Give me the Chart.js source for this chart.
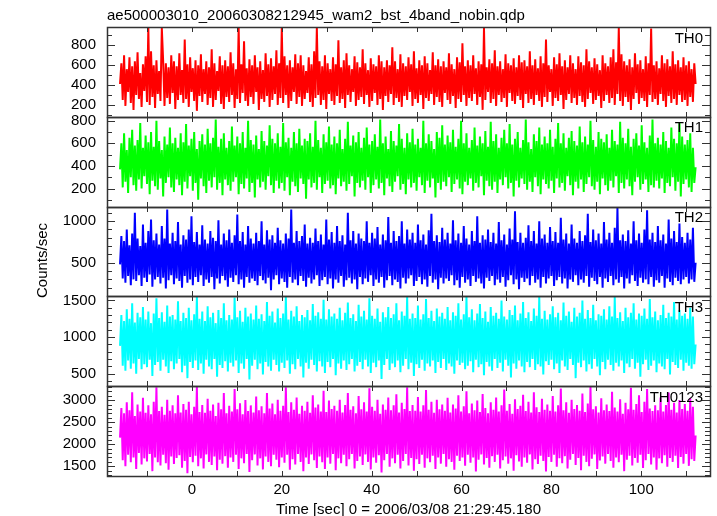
<!DOCTYPE html>
<html lang="en">
<head>
    <meta charset="UTF-8">
    <title>ae500003010 wam2 bst 4band</title>
    <script src="https://cdn.jsdelivr.net/npm/chart.js"></script>
    <style>
        * { margin: 0; padding: 0; }
        body { background: #fff; }
        #wrap { width: 717px; height: 516px; }
    </style>
</head>
<body>
    <div id="wrap"><canvas id="lc"></canvas></div>
    <script>
        // time bins (sec): start and bin width
        const tStart = -16;
        const tStep = 0.3;

        const th0 = [
            410, 620, 250, 700, 190, 560, 330, 680, 220, 590, 150, 640, 300, 730, 260, 520, 180, 610, 340, 690,
            230, 975, 200, 740, 280, 600, 170, 650, 310, 540, 240, 975, 640, 190, 620, 270, 580, 210, 700, 320,
            640, 160, 590, 250, 720, 300, 550, 220, 860, 260, 610, 180, 680, 330, 570, 240, 650, 140, 600, 290,
            710, 230, 560, 310, 640, 200, 580, 270, 760, 180, 620, 250, 540, 340, 690, 210, 600, 160, 650, 280,
            590, 230, 730, 300, 620, 170, 560, 260, 975, 220, 610, 320, 840, 240, 570, 190, 660, 280, 600, 210,
            700, 330, 580, 150, 640, 260, 550, 230, 720, 290, 610, 180, 670, 250, 590, 310, 750, 200, 620, 270,
            975, 220, 690, 300, 600, 170, 650, 240, 580, 330, 710, 210, 620, 280, 700, 190, 600, 260, 540, 320,
            680, 230, 610, 180, 740, 270, 975, 300, 640, 200, 590, 250, 700, 160, 620, 310, 560, 240, 680, 200,
            610, 290, 850, 220, 580, 260, 650, 170, 720, 300, 600, 230, 560, 330, 690, 190, 630, 250, 580, 280,
            760, 210, 620, 300, 550, 180, 670, 240, 610, 320, 590, 200, 700, 260, 640, 150, 580, 290, 650, 230,
            600, 310, 780, 200, 640, 270, 560, 230, 710, 180, 620, 290, 590, 250, 680, 330, 610, 190, 740, 260,
            570, 220, 650, 300, 600, 160, 690, 270, 620, 240, 550, 310, 730, 200, 600, 280, 660, 230, 590, 180,
            640, 320, 580, 250, 720, 210, 610, 290, 560, 170, 680, 260, 630, 230, 820, 300, 590, 190, 650, 270,
            600, 240, 700, 310, 570, 200, 640, 280, 610, 150, 975, 250, 580, 330, 660, 220, 620, 260, 750, 190,
            590, 300, 640, 230, 560, 270, 710, 180, 620, 320, 600, 240, 670, 210, 580, 290, 700, 250, 630, 170,
            650, 310, 590, 220, 740, 260, 600, 200, 660, 300, 570, 240, 690, 180, 620, 280, 860, 230, 600, 330,
            560, 190, 680, 270, 610, 240, 720, 300, 590, 160, 650, 250, 580, 310, 700, 220, 620, 270, 560, 200,
            690, 290, 630, 230, 600, 180, 760, 260, 640, 320, 580, 210, 670, 250, 610, 290, 550, 170, 700, 240,
            620, 300, 590, 220, 680, 270, 760, 200, 630, 310, 975, 240, 710, 190, 640, 280, 600, 230, 660, 150,
            580, 260, 720, 320, 610, 210, 650, 270, 560, 240, 690, 180, 620, 300, 970, 230, 600, 260, 640, 200,
            570, 310, 700, 240, 620, 180, 660, 290, 590, 220, 740, 260, 610, 200, 650, 300, 580, 230, 680, 250,
            600, 190, 640, 280, 560, 230, 620, 410
        ];
        const th1 = [
            370, 600, 210, 690, 260, 540, 160, 650, 300, 720, 230, 580, 180, 630, 280, 780, 200, 560, 310, 670,
            240, 610, 150, 700, 270, 570, 220, 800, 190, 620, 290, 540, 130, 660, 250, 590, 300, 740, 210, 600,
            170, 650, 280, 560, 230, 690, 140, 610, 260, 770, 200, 580, 310, 640, 180, 700, 250, 550, 100, 620,
            290, 680, 220, 590, 160, 730, 270, 600, 210, 650, 300, 810, 190, 570, 250, 640, 140, 690, 280, 560,
            230, 620, 180, 750, 260, 580, 300, 660, 150, 600, 240, 700, 200, 560, 290, 800, 170, 630, 250, 590,
            120, 670, 280, 550, 210, 710, 260, 620, 190, 580, 310, 760, 230, 640, 160, 600, 270, 690, 200, 570,
            250, 780, 180, 610, 300, 650, 140, 560, 260, 700, 220, 600, 170, 730, 290, 580, 240, 640, 110, 620,
            280, 690, 210, 570, 250, 800, 190, 630, 300, 560, 160, 680, 240, 610, 270, 750, 200, 590, 230, 660,
            150, 600, 290, 720, 220, 550, 260, 640, 180, 790, 240, 580, 310, 670, 130, 610, 250, 700, 210, 560,
            270, 650, 190, 740, 300, 590, 160, 620, 230, 680, 280, 570, 200, 810, 250, 600, 140, 660, 290, 550,
            220, 710, 170, 620, 260, 580, 310, 770, 190, 640, 240, 560, 150, 690, 280, 610, 210, 730, 250, 590,
            180, 640, 300, 560, 230, 800, 160, 600, 270, 680, 210, 620, 290, 550, 120, 700, 250, 650, 190, 760,
            260, 590, 220, 670, 300, 610, 170, 720, 240, 570, 280, 640, 200, 800, 150, 600, 260, 690, 230, 560,
            290, 630, 180, 740, 250, 580, 210, 660, 310, 600, 140, 710, 270, 570, 220, 790, 190, 620, 260, 680,
            160, 560, 280, 650, 230, 720, 300, 600, 200, 770, 250, 590, 130, 640, 270, 700, 210, 560, 290, 630,
            240, 810, 190, 610, 260, 550, 170, 680, 300, 620, 220, 740, 150, 590, 280, 660, 240, 600, 200, 720,
            270, 570, 160, 640, 290, 780, 210, 600, 250, 690, 180, 560, 310, 650, 230, 710, 140, 620, 260, 580,
            200, 750, 280, 610, 170, 660, 240, 590, 300, 800, 220, 630, 190, 570, 260, 700, 150, 640, 290, 610,
            230, 680, 180, 560, 270, 720, 210, 620, 310, 590, 160, 790, 250, 650, 200, 600, 280, 730, 220, 570,
            140, 640, 260, 690, 300, 580, 190, 760, 240, 610, 280, 560, 170, 670, 230, 810, 210, 600, 270, 650,
            200, 590, 290, 700, 160, 620, 250, 560, 220, 740, 300, 640, 180, 600, 260, 780, 130, 660, 240, 590,
            280, 630, 210, 690, 170, 560, 250, 390
        ];
        const th2 = [
            480, 820, 310, 760, 260, 900, 340, 710, 230, 850, 300, 1100, 280, 790, 350, 700, 220, 960, 320, 740,
            270, 880, 360, 1020, 210, 770, 300, 850, 330, 720, 250, 940, 320, 790, 190, 1140, 290, 730, 350, 860,
            240, 760, 310, 990, 280, 720, 200, 830, 340, 780, 260, 900, 300, 1060, 230, 750, 330, 870, 270, 720,
            350, 950, 220, 780, 300, 730, 260, 880, 330, 800, 180, 760, 310, 1010, 250, 720, 340, 850, 290, 770,
            210, 900, 320, 740, 270, 830, 350, 1080, 240, 760, 300, 870, 200, 720, 330, 940, 260, 790, 310, 730,
            280, 860, 230, 760, 340, 1000, 290, 720, 250, 890, 320, 780, 170, 830, 300, 740, 350, 920, 240, 770,
            310, 730, 270, 850, 200, 790, 330, 1140, 260, 740, 300, 880, 230, 760, 340, 820, 280, 960, 210, 730,
            320, 800, 250, 740, 300, 910, 350, 760, 220, 840, 290, 720, 330, 1020, 240, 780, 310, 870, 190, 740,
            300, 940, 260, 760, 340, 830, 210, 720, 290, 1100, 320, 770, 250, 880, 300, 730, 180, 850, 330, 790,
            240, 760, 310, 1000, 270, 740, 350, 860, 220, 790, 300, 930, 260, 720, 330, 840, 200, 770, 290, 1050,
            340, 740, 230, 880, 300, 760, 270, 820, 190, 1000, 320, 730, 250, 900, 310, 780, 350, 860, 220, 740,
            280, 960, 330, 770, 240, 840, 300, 720, 210, 890, 340, 1090, 260, 760, 300, 830, 180, 750, 320, 920,
            250, 780, 310, 860, 280, 730, 350, 1010, 230, 770, 290, 850, 200, 740, 330, 940, 260, 790, 300, 720,
            220, 880, 340, 760, 270, 1060, 310, 740, 250, 830, 190, 780, 320, 900, 280, 750, 340, 860, 230, 730,
            300, 990, 260, 770, 330, 840, 210, 720, 290, 910, 350, 780, 240, 1120, 300, 750, 180, 860, 320, 740,
            270, 800, 310, 950, 230, 760, 340, 880, 260, 730, 300, 1000, 200, 790, 330, 840, 250, 740, 310, 930,
            340, 760, 220, 870, 290, 740, 330, 1040, 250, 780, 310, 850, 190, 730, 300, 960, 270, 790, 350, 740,
            230, 880, 300, 760, 260, 830, 340, 1090, 210, 750, 320, 900, 280, 770, 240, 850, 330, 730, 200, 990,
            310, 780, 270, 860, 340, 740, 230, 920, 300, 1160, 260, 770, 330, 840, 190, 760, 310, 890, 250, 730,
            350, 1000, 280, 770, 220, 850, 320, 740, 260, 900, 300, 1130, 240, 780, 330, 860, 210, 750, 290, 940,
            260, 770, 340, 840, 200, 730, 310, 1020, 270, 790, 230, 880, 320, 750, 280, 970, 240, 810, 300, 740,
            330, 860, 250, 780, 300, 920, 270, 500
        ];
        const th3 = [
            880, 1300, 610, 1220, 540, 1380, 680, 1250, 570, 1460, 640, 1200, 500, 1330, 700, 1270, 560, 1410, 630, 1240,
            590, 1350, 690, 1190, 470, 1320, 620, 1530, 660, 1260, 540, 1340, 690, 1210, 600, 1430, 510, 1280, 670, 1300,
            560, 1240, 640, 1490, 700, 1220, 520, 1330, 610, 1260, 440, 1400, 660, 1230, 580, 1310, 680, 1550, 550, 1250,
            640, 1350, 500, 1220, 690, 1420, 600, 1270, 560, 1330, 700, 1190, 460, 1370, 620, 1260, 580, 1460, 670, 1230,
            530, 1300, 650, 1240, 600, 1540, 680, 1270, 510, 1360, 640, 1210, 570, 1400, 700, 1280, 420, 1320, 610, 1240,
            690, 1430, 560, 1250, 640, 1310, 490, 1220, 660, 1480, 600, 1290, 540, 1350, 690, 1200, 620, 1390, 530, 1260,
            650, 1320, 580, 1545, 680, 1240, 500, 1360, 630, 1280, 560, 1420, 700, 1220, 600, 1300, 450, 1270, 650, 1370,
            570, 1230, 690, 1450, 620, 1290, 530, 1340, 670, 1250, 600, 1510, 510, 1240, 660, 1380, 590, 1280, 700, 1320,
            480, 1250, 640, 1400, 570, 1230, 680, 1330, 550, 1470, 630, 1260, 700, 1310, 530, 1220, 610, 1440, 660, 1280,
            560, 1360, 690, 1240, 600, 1530, 510, 1290, 650, 1250, 590, 1390, 680, 1210, 430, 1340, 620, 1270, 700, 1410,
            550, 1260, 640, 1310, 590, 1460, 680, 1230, 520, 1350, 610, 1290, 700, 1545, 560, 1250, 650, 1320, 470, 1260,
            630, 1430, 580, 1240, 690, 1310, 540, 1520, 640, 1260, 600, 1360, 680, 1220, 510, 1390, 660, 1280, 580, 1330,
            700, 1250, 550, 1410, 640, 1230, 600, 1340, 500, 1290, 680, 1460, 620, 1240, 650, 1310, 560, 1545, 610, 1270,
            670, 1380, 520, 1230, 690, 1320, 590, 1450, 630, 1260, 480, 1350, 660, 1210, 600, 1410, 540, 1290, 700, 1330,
            580, 1250, 650, 1500, 530, 1280, 690, 1240, 610, 1370, 450, 1300, 640, 1430, 570, 1230, 680, 1320, 600, 1480,
            520, 1260, 660, 1340, 590, 1220, 700, 1390, 550, 1290, 630, 1545, 600, 1250, 490, 1360, 670, 1240, 620, 1310,
            690, 1420, 560, 1270, 640, 1330, 510, 1230, 680, 1470, 600, 1290, 550, 1350, 700, 1210, 620, 1400, 440, 1280,
            650, 1330, 590, 1500, 680, 1250, 530, 1370, 630, 1260, 570, 1440, 700, 1230, 600, 1310, 480, 1290, 660, 1380,
            560, 1240, 690, 1420, 620, 1280, 540, 1545, 650, 1260, 600, 1340, 680, 1220, 510, 1400, 640, 1270, 590, 1330,
            700, 1460, 570, 1240, 650, 1320, 460, 1290, 630, 1390, 690, 1250, 550, 1520, 610, 1270, 680, 1350, 520, 1230,
            640, 1300, 600, 1440, 560, 1260, 700, 1330, 490, 1280, 660, 1480, 620, 1240, 580, 1370, 690, 1290, 540, 1320,
            650, 1250, 610, 1400, 570, 1280, 630, 900
        ];
        const th0123 = [
            2150, 2820, 1640, 2700, 1500, 2950, 1760, 2770, 1590, 3180, 1700, 2640, 1440, 2900, 1800, 2740, 1540, 3050, 1680, 2710,
            1610, 2880, 1780, 2680, 1390, 2960, 1700, 3290, 1590, 2750, 1520, 2850, 1760, 2670, 1570, 3010, 1420, 2760, 1720, 2880,
            1550, 2700, 1690, 3110, 1750, 2720, 1470, 2910, 1620, 2780, 1340, 2960, 1710, 2680, 1590, 2850, 1740, 3300, 1500, 2730,
            1680, 2890, 1450, 2710, 1770, 3030, 1600, 2760, 1530, 2900, 1720, 2640, 1410, 2940, 1650, 2790, 1560, 3160, 1730, 2700,
            1470, 2870, 1700, 2740, 1600, 3250, 1760, 2790, 1440, 2930, 1680, 2680, 1570, 3000, 1780, 2750, 1370, 2880, 1640, 2720,
            1770, 3080, 1520, 2770, 1680, 2860, 1430, 2700, 1720, 3160, 1600, 2810, 1500, 2920, 1760, 2680, 1650, 3010, 1480, 2760,
            1700, 2870, 1580, 3290, 1760, 2730, 1420, 2950, 1660, 2780, 1540, 3060, 1780, 2690, 1600, 2870, 1390, 2760, 1700, 2960,
            1550, 2710, 1770, 3110, 1640, 2830, 1460, 2900, 1720, 2740, 1590, 3210, 1440, 2730, 1700, 2990, 1560, 2800, 1780, 2870,
            1410, 2760, 1680, 3010, 1570, 2720, 1760, 2890, 1500, 3160, 1660, 2780, 1780, 2860, 1450, 2700, 1620, 3090, 1720, 2790,
            1530, 2950, 1770, 2740, 1600, 3270, 1430, 2850, 1700, 2760, 1580, 3010, 1750, 2690, 1360, 2900, 1640, 2780, 1780, 3060,
            1490, 2770, 1680, 2880, 1570, 3130, 1760, 2720, 1450, 2940, 1620, 2800, 1780, 3290, 1520, 2750, 1690, 2890, 1400, 2760,
            1660, 3070, 1550, 2740, 1760, 2880, 1470, 3230, 1680, 2780, 1590, 2960, 1740, 2710, 1440, 3010, 1700, 2790, 1560, 2900,
            1780, 2760, 1490, 3050, 1660, 2720, 1600, 2900, 1420, 2810, 1740, 3110, 1620, 2740, 1700, 2860, 1510, 3200, 1760, 2700,
            1580, 2920, 1700, 2770, 1380, 2990, 1650, 2730, 1770, 3140, 1540, 2820, 1690, 2700, 1470, 2950, 1730, 2780, 1600, 3060,
            1760, 2740, 1450, 2880, 1640, 3240, 1720, 2760, 1560, 2910, 1680, 2690, 1400, 3020, 1750, 2800, 1610, 2870, 1490, 3120,
            1700, 2750, 1580, 2960, 1770, 2720, 1430, 3180, 1660, 2840, 1550, 2730, 1740, 3030, 1620, 2780, 1380, 2900, 1710, 2760,
            1600, 3090, 1760, 2740, 1490, 2880, 1680, 3260, 1570, 2770, 1730, 2950, 1450, 2710, 1650, 3010, 1780, 2800, 1530, 2890,
            1690, 2760, 1410, 3150, 1740, 2730, 1600, 2920, 1500, 3300, 1670, 2790, 1770, 2860, 1440, 2720, 1630, 3040, 1720, 2770,
            1560, 2900, 1780, 2750, 1620, 3190, 1470, 2830, 1700, 2740, 1590, 3020, 1760, 2690, 1390, 2940, 1650, 2790, 1740, 3280,
            1520, 2780, 1690, 2910, 1580, 3110, 1760, 2730, 1460, 2960, 1640, 3250, 1780, 2810, 1540, 2750, 1700, 2880, 1420, 2770,
            1680, 3060, 1570, 2740, 1750, 2890, 1490, 3170, 1690, 2780, 1600, 2940, 1740, 2720, 1460, 3000, 1710, 2800, 1560, 2910,
            1780, 2760, 1510, 3040, 1660, 2850, 1620, 2200
        ];

        const panelNames = ['TH0', 'TH1', 'TH2', 'TH3', 'TH0123'];
        const panelColors = ['#ff0000', '#00ff00', '#0000ff', '#00ffff', '#ff00ff'];
        const panelMin = [80, 40, 95, 330, 1280];
        const panelMax = [985, 835, 1175, 1555, 3315];
        const panelMajor = [200, 200, 500, 500, 500];
        const minorStep = 100;
        const series = [th0, th1, th2, th3, th0123];

        const xMin = -18.9;
        const xMax = 115.3;
        const xMinor = 10;
        const xMajor = 20;
        const titleText = 'ae500003010_20060308212945_wam2_bst_4band_nobin.qdp';
        const FONT = '"Liberation Sans", Arial, sans-serif';

        const datasets = series.map((vals, k) => ({
            label: panelNames[k],
            data: vals.map((v, i) => ({ x: tStart + i * tStep, y: v })),
            yAxisID: 'y' + k,
            borderColor: panelColors[k],
            borderWidth: 2,
            borderJoinStyle: 'bevel',
            pointRadius: 0,
            tension: 0,
            fill: false
        }));

        function multiples(lo, hi, step) {
            const out = [];
            for (let v = Math.ceil(lo / step) * step; v <= hi; v += step) out.push({ value: v });
            return out;
        }

        const scales = {
            x: {
                type: 'linear',
                min: xMin,
                max: xMax,
                grid: { display: false, drawTicks: false },
                border: { display: false },
                afterBuildTicks: s => { s.ticks = multiples(xMin, xMax, xMinor); },
                afterFit: s => { s.height = 40; },
                ticks: {
                    autoSkip: false,
                    maxRotation: 0,
                    padding: 5,
                    color: '#000',
                    font: { family: FONT, size: 15 },
                    callback: v => (v % xMajor === 0 ? v : '')
                }
            }
        };
        // left stacks are laid out bottom-up, so add the lowest panel first
        for (let k = panelNames.length - 1; k >= 0; k--) {
            scales['y' + k] = {
                type: 'linear',
                position: 'left',
                stack: 'panels',
                stackWeight: 1,
                min: panelMin[k],
                max: panelMax[k],
                grid: { display: false, drawTicks: false },
                border: { display: false },
                afterBuildTicks: s => { s.ticks = multiples(panelMin[k], panelMax[k], minorStep); },
                afterFit: s => { s.width = 107; },
                ticks: {
                    autoSkip: false,
                    padding: 11,
                    color: '#000',
                    font: { family: FONT, size: 15 },
                    callback: v => (v % panelMajor[k] === 0 ? v : '')
                }
            };
        }

        // frames, inward tick marks, panel names and titles
        const qdpFrame = {
            id: 'qdpFrame',
            afterDraw(chart) {
                const ctx = chart.ctx;
                const area = chart.chartArea;
                const xs = chart.scales.x;
                const L = Math.round(area.left);
                const R = Math.round(area.right);
                ctx.save();
                ctx.fillStyle = '#333';
                panelNames.forEach((name, k) => {
                    const ys = chart.scales['y' + k];
                    const top = Math.round(ys.top);
                    const bot = Math.round(ys.bottom);
                    ys.ticks.forEach(t => {
                        const py = Math.round(ys.getPixelForValue(t.value));
                        const len = t.value % panelMajor[k] === 0 ? 8 : 5;
                        ctx.fillRect(L, py, len, 1);
                        ctx.fillRect(R - len, py, len, 1);
                    });
                    xs.ticks.forEach(t => {
                        const px = Math.round(xs.getPixelForValue(t.value));
                        ctx.fillRect(px, top, 1, 5);
                        ctx.fillRect(px, bot - 5, 1, 5);
                    });
                    ctx.strokeStyle = '#333';
                    ctx.lineWidth = 1.5;
                    ctx.strokeRect(L + 0.5, top + 0.5, R - L, bot - top);
                });
                ctx.fillStyle = '#000';
                ctx.font = '15px ' + FONT;
                ctx.textAlign = 'right';
                ctx.textBaseline = 'top';
                panelNames.forEach((name, k) => {
                    ctx.fillText(name, area.right - 7, chart.scales['y' + k].top + 4);
                });
                ctx.textAlign = 'left';
                ctx.textBaseline = 'alphabetic';
                ctx.fillText(titleText, area.left, 20);
                ctx.textAlign = 'center';
                ctx.fillText('Time [sec] 0 = 2006/03/08 21:29:45.180', (area.left + area.right) / 2, 514);
                ctx.translate(47, (area.top + area.bottom) / 2 + 9);
                ctx.rotate(-Math.PI / 2);
                ctx.fillText('Counts/sec', 0, 0);
                ctx.restore();
            }
        };

        new Chart(document.getElementById('lc'), {
            type: 'line',
            data: { datasets },
            options: {
                responsive: true,
                maintainAspectRatio: false,
                animation: false,
                events: [],
                layout: { padding: { top: 27, right: 7, bottom: 0, left: 0 } },
                plugins: {
                    legend: { display: false },
                    tooltip: { enabled: false }
                },
                scales
            },
            plugins: [qdpFrame]
        });
    </script>
</body>
</html>
